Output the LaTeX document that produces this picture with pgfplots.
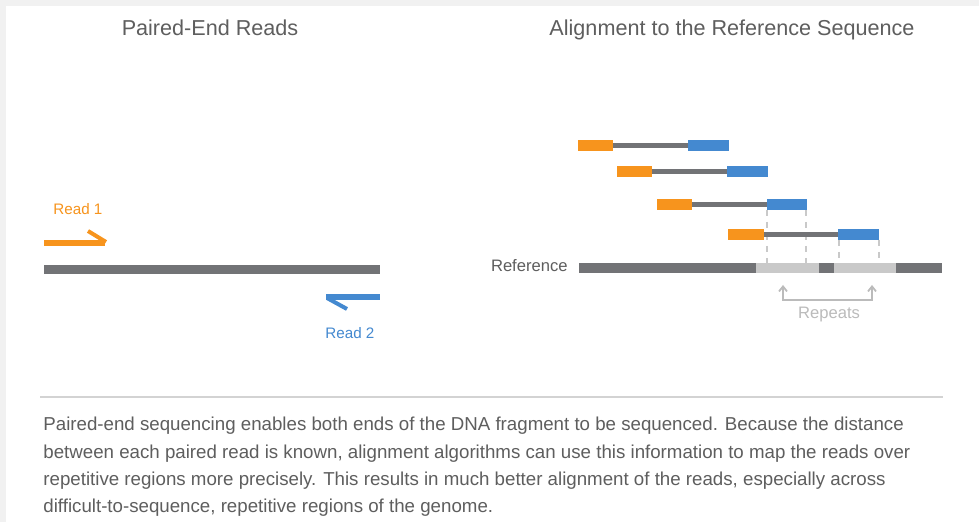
\documentclass[border=0pt]{standalone}
\usepackage{fontspec}
\setmainfont{Liberation Sans}
\usepackage{pgfplots}
\pgfplotsset{compat=1.18}
\usetikzlibrary{arrows.meta}
\definecolor{bgc}{HTML}{F1F1F1}
\definecolor{orng}{HTML}{F7941D}
\definecolor{blu}{HTML}{4489D0}
\definecolor{dgray}{HTML}{727376}
\definecolor{lgray}{HTML}{C9C9C9}
\definecolor{rgray}{HTML}{BBBBBB}
\definecolor{tgray}{HTML}{5E5E5E}
\definecolor{sepc}{HTML}{D3D3D3}
\begin{document}
\begin{tikzpicture}[every node/.style={inner sep=0pt}]
\begin{axis}[width=489.5pt,height=261pt,scale only axis,
  xmin=0,xmax=979,ymin=0,ymax=522,y dir=reverse,hide axis,clip=false]
% background
\addplot[fill=bgc,draw=none] coordinates {(0,0)(979,0)(979,522)(0,522)} -- cycle;
\addplot[fill=white,draw=none] coordinates {(6,6)(979,6)(979,522)(6,522)} -- cycle;
% titles
\node[anchor=base,text=tgray,font=\fontsize{10.8}{13}\selectfont] at (axis cs:210,36) {Paired-End Reads};
\node[anchor=base,text=tgray,font=\fontsize{10.8}{13}\selectfont] at (axis cs:732,36) {Alignment to the Reference Sequence};
% left diagram
\addplot[line width=4.5pt,color=dgray] coordinates {(44,270) (380,270)};
\addplot[line width=2.8pt,color=orng] coordinates {(44,243) (105,243)};
\addplot[line width=2pt,color=orng] coordinates {(88,231) (106,242)};
\addplot[line width=2.8pt,color=blu] coordinates {(326,297) (380,297)};
\addplot[line width=2pt,color=blu] coordinates {(327,298) (347,309)};
\node[anchor=base west,text=orng,font=\fontsize{7.6}{9}\selectfont] at (axis cs:53,215) {Read 1};
\node[anchor=base west,text=blu,font=\fontsize{7.6}{9}\selectfont] at (axis cs:325,339) {Read 2};
% right diagram: dashed guides
\addplot[line width=0.6pt,color=lgray,dashed] coordinates {(767,210) (767,264)};
\addplot[line width=0.6pt,color=lgray,dashed] coordinates {(806,210) (806,264)};
\addplot[line width=0.6pt,color=lgray,dashed] coordinates {(839,240) (839,264)};
\addplot[line width=0.6pt,color=lgray,dashed] coordinates {(879,240) (879,264)};
% reads (row 1)
\addplot[line width=2.5pt,color=dgray] coordinates {(613,145.5) (688,145.5)};
\addplot[line width=5.5pt,color=orng] coordinates {(578,145.5) (613,145.5)};
\addplot[line width=5.5pt,color=blu] coordinates {(688,145.5) (729,145.5)};
% row 2
\addplot[line width=2.5pt,color=dgray] coordinates {(652,172) (727,172)};
\addplot[line width=5.5pt,color=orng] coordinates {(617,172) (652,172)};
\addplot[line width=5.5pt,color=blu] coordinates {(727,172) (768,172)};
% row 3
\addplot[line width=2.5pt,color=dgray] coordinates {(692,204.5) (767,204.5)};
\addplot[line width=5.5pt,color=orng] coordinates {(657,204.5) (692,204.5)};
\addplot[line width=5.5pt,color=blu] coordinates {(767,204.5) (807,204.5)};
% row 4
\addplot[line width=2.5pt,color=dgray] coordinates {(764,234.5) (838,234.5)};
\addplot[line width=5.5pt,color=orng] coordinates {(728,234.5) (764,234.5)};
\addplot[line width=5.5pt,color=blu] coordinates {(838,234.5) (879,234.5)};
% reference
\addplot[line width=5pt,color=dgray] coordinates {(579,268) (756,268)};
\addplot[line width=5pt,color=lgray] coordinates {(756,268) (819,268)};
\addplot[line width=5pt,color=dgray] coordinates {(819,268) (834,268)};
\addplot[line width=5pt,color=lgray] coordinates {(834,268) (896,268)};
\addplot[line width=5pt,color=dgray] coordinates {(896,268) (942,268)};
\node[anchor=base east,text=tgray,font=\fontsize{8.3}{10}\selectfont] at (axis cs:568,272) {Reference};
% repeats bracket
\addplot[line width=0.9pt,color=rgray,{Straight Barb[length=2.5pt,width=4pt]}-{Straight Barb[length=2.5pt,width=4pt]}] coordinates {(783,285) (783,300) (872,300) (872,285)};
\node[anchor=base,text=rgray,font=\fontsize{8.3}{10}\selectfont] at (axis cs:829,319) {Repeats};
% separator
\addplot[line width=1pt,color=sepc] coordinates {(40,397) (943,397)};
% body text
\node[anchor=base west,text=tgray,font=\fontsize{9.35}{11}\selectfont] at (axis cs:43,431) {Paired-end sequencing enables both ends of the DNA fragment to be sequenced. Because the distance};
\node[anchor=base west,text=tgray,font=\fontsize{9.35}{11}\selectfont] at (axis cs:43,459) {between each paired read is known, alignment algorithms can use this information to map the reads over};
\node[anchor=base west,text=tgray,font=\fontsize{9.35}{11}\selectfont] at (axis cs:43,486) {repetitive regions more precisely. This results in much better alignment of the reads, especially across};
\node[anchor=base west,text=tgray,font=\fontsize{9.35}{11}\selectfont] at (axis cs:43,513) {difficult-to-sequence, repetitive regions of the genome.};
\end{axis}
\end{tikzpicture}
\end{document}
